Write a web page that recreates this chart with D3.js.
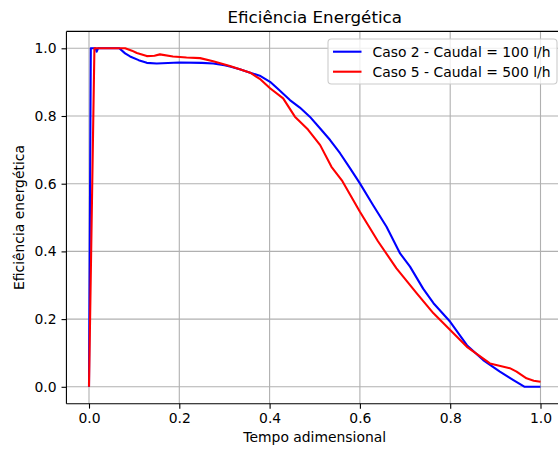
<!DOCTYPE html>
<html>
<head>
<meta charset="utf-8">
<script src="https://cdn.jsdelivr.net/npm/d3@7"></script>
<style>
  body { margin: 0; background: #fff; }
  svg { display: block; font-family: "DejaVu Sans", sans-serif; }
</style>
</head>
<body>
<svg id="chart" width="558" height="452"></svg>
<script>
// ---- data ----
const caso2T = [0, 0.004, 0.015, 0.017, 0.02, 0.067, 0.08, 0.091, 0.11, 0.128, 0.15, 0.2, 0.25, 0.275, 0.3, 0.312, 0.334, 0.357, 0.38, 0.401, 0.42, 0.445, 0.467, 0.489, 0.512, 0.534, 0.556, 0.578, 0.6, 0.63, 0.659, 0.689, 0.711, 0.74, 0.763, 0.8, 0.837, 0.873, 0.91, 0.94, 0.965, 1.0];
const caso2V = [0, 1.0, 1.0, 0.99, 1.0, 1.0, 0.985, 0.976, 0.965, 0.957, 0.955, 0.958, 0.957, 0.955, 0.95, 0.946, 0.938, 0.928, 0.918, 0.901, 0.878, 0.847, 0.825, 0.798, 0.763, 0.729, 0.69, 0.646, 0.601, 0.535, 0.473, 0.394, 0.355, 0.29, 0.247, 0.192, 0.123, 0.079, 0.045, 0.02, 0.0, 0.0];
const caso5T = [0, 0.012, 0.08, 0.095, 0.106, 0.128, 0.145, 0.157, 0.186, 0.216, 0.246, 0.275, 0.312, 0.334, 0.357, 0.38, 0.401, 0.43, 0.456, 0.485, 0.512, 0.537, 0.56, 0.6, 0.64, 0.681, 0.726, 0.763, 0.8, 0.837, 0.888, 0.932, 0.947, 0.969, 0.985, 1.0];
const caso5V = [0, 1.0, 1.0, 0.993, 0.986, 0.977, 0.978, 0.982, 0.976, 0.973, 0.971, 0.962, 0.948, 0.938, 0.928, 0.908, 0.882, 0.852, 0.798, 0.76, 0.714, 0.65, 0.61, 0.517, 0.43, 0.35, 0.276, 0.217, 0.168, 0.118, 0.069, 0.055, 0.045, 0.025, 0.018, 0.015];
const seriesNames = ["Caso 2 - Caudal = 100 l/h", "Caso 5 - Caudal = 500 l/h"];
const seriesColors = ["#0000ff", "#ff0000"];
const xTicks = [0, 0.2, 0.4, 0.6, 0.8, 1.0];
const yTicks = [0, 0.2, 0.4, 0.6, 0.8, 1.0];
const titleText = "Eficiência Energética";
const xLabel = "Tempo adimensional";
const yLabel = "Eficiência energética";

// ---- layout ----
const svg = d3.select("#chart");
const x = d3.scaleLinear().domain([0, 1]).range([89, 540.5]);
const y = d3.scaleLinear().domain([0, 1]).range([386.8, 48.3]);
const xl = x(-0.05), xr = x(1.05), yb = y(-0.05), yt = y(1.05);

// grid
const grid = svg.append("g");
xTicks.forEach(t => grid.append("line")
  .attr("x1", x(t)).attr("x2", x(t)).attr("y1", yb).attr("y2", yt)
  .attr("stroke", "#b0b0b0").attr("stroke-width", 1.1));
yTicks.forEach(t => grid.append("line")
  .attr("x1", xl).attr("x2", xr).attr("y1", y(t)).attr("y2", y(t))
  .attr("stroke", "#b0b0b0").attr("stroke-width", 1.1));

// lines
svg.append("clipPath").attr("id", "clip").append("rect")
  .attr("x", xl).attr("y", yt).attr("width", xr - xl).attr("height", yb - yt);
const line = d3.line().x(d => x(d[0])).y(d => y(d[1]));
const data = [d3.zip(caso2T, caso2V), d3.zip(caso5T, caso5V)];
data.forEach((d, i) => svg.append("path").datum(d)
  .attr("d", line).attr("fill", "none")
  .attr("stroke", seriesColors[i]).attr("stroke-width", 2.1)
  .attr("stroke-linejoin", "round").attr("clip-path", "url(#clip)"));

// axes
const xAxis = d3.axisBottom(x).tickValues(xTicks).tickFormat(d3.format(".1f"))
  .tickSizeInner(4.9).tickSizeOuter(0).tickPadding(4.9);
const gx = svg.append("g").attr("transform", `translate(0,${yb})`).call(xAxis);
const yAxis = d3.axisLeft(y).tickValues(yTicks).tickFormat(d3.format(".1f"))
  .tickSizeInner(4.9).tickSizeOuter(0).tickPadding(4.9);
const gy = svg.append("g").attr("transform", `translate(${xl},0)`).call(yAxis);
[gx, gy].forEach(g => {
  g.select(".domain").remove();
  g.selectAll(".tick line").attr("stroke", "#000").attr("stroke-width", 1.1);
  g.selectAll(".tick text").attr("font-size", 13.9).attr("fill", "#000")
    .attr("font-family", "DejaVu Sans");
});

// spines
const sp = svg.append("g").attr("stroke", "#000").attr("stroke-width", 1.1);
sp.append("line").attr("x1", xl).attr("x2", xr).attr("y1", yb).attr("y2", yb);
sp.append("line").attr("x1", xl).attr("x2", xr).attr("y1", yt).attr("y2", yt);
sp.append("line").attr("x1", xl).attr("x2", xl).attr("y1", yt).attr("y2", yb);
sp.append("line").attr("x1", xr).attr("x2", xr).attr("y1", yt).attr("y2", yb);

// title & labels
const cx = (xl + xr) / 2;
svg.append("text").attr("x", cx).attr("y", 23.4).attr("text-anchor", "middle")
  .attr("font-size", 16.7).text(titleText);
svg.append("text").attr("x", cx).attr("y", 442).attr("text-anchor", "middle")
  .attr("font-size", 13.9).text(xLabel);
svg.append("text").attr("transform", `translate(24,${(yt + yb) / 2}) rotate(-90)`)
  .attr("text-anchor", "middle").attr("font-size", 13.9).text(yLabel);

// legend
const lg = svg.append("g");
lg.append("rect").attr("x", 328).attr("y", 39).attr("width", 229).attr("height", 45)
  .attr("rx", 3.5).attr("fill", "#fff").attr("fill-opacity", 0.8)
  .attr("stroke", "#cccccc").attr("stroke-width", 1.1);
seriesNames.forEach((n, i) => {
  const ly = 51.7 + i * 20;
  lg.append("line").attr("x1", 333).attr("x2", 361.5).attr("y1", ly).attr("y2", ly)
    .attr("stroke", seriesColors[i]).attr("stroke-width", 2.1);
  lg.append("text").attr("x", 372.5).attr("y", ly).attr("dy", "0.36em")
    .attr("font-size", 13.9).text(n);
});
</script>
</body>
</html>
